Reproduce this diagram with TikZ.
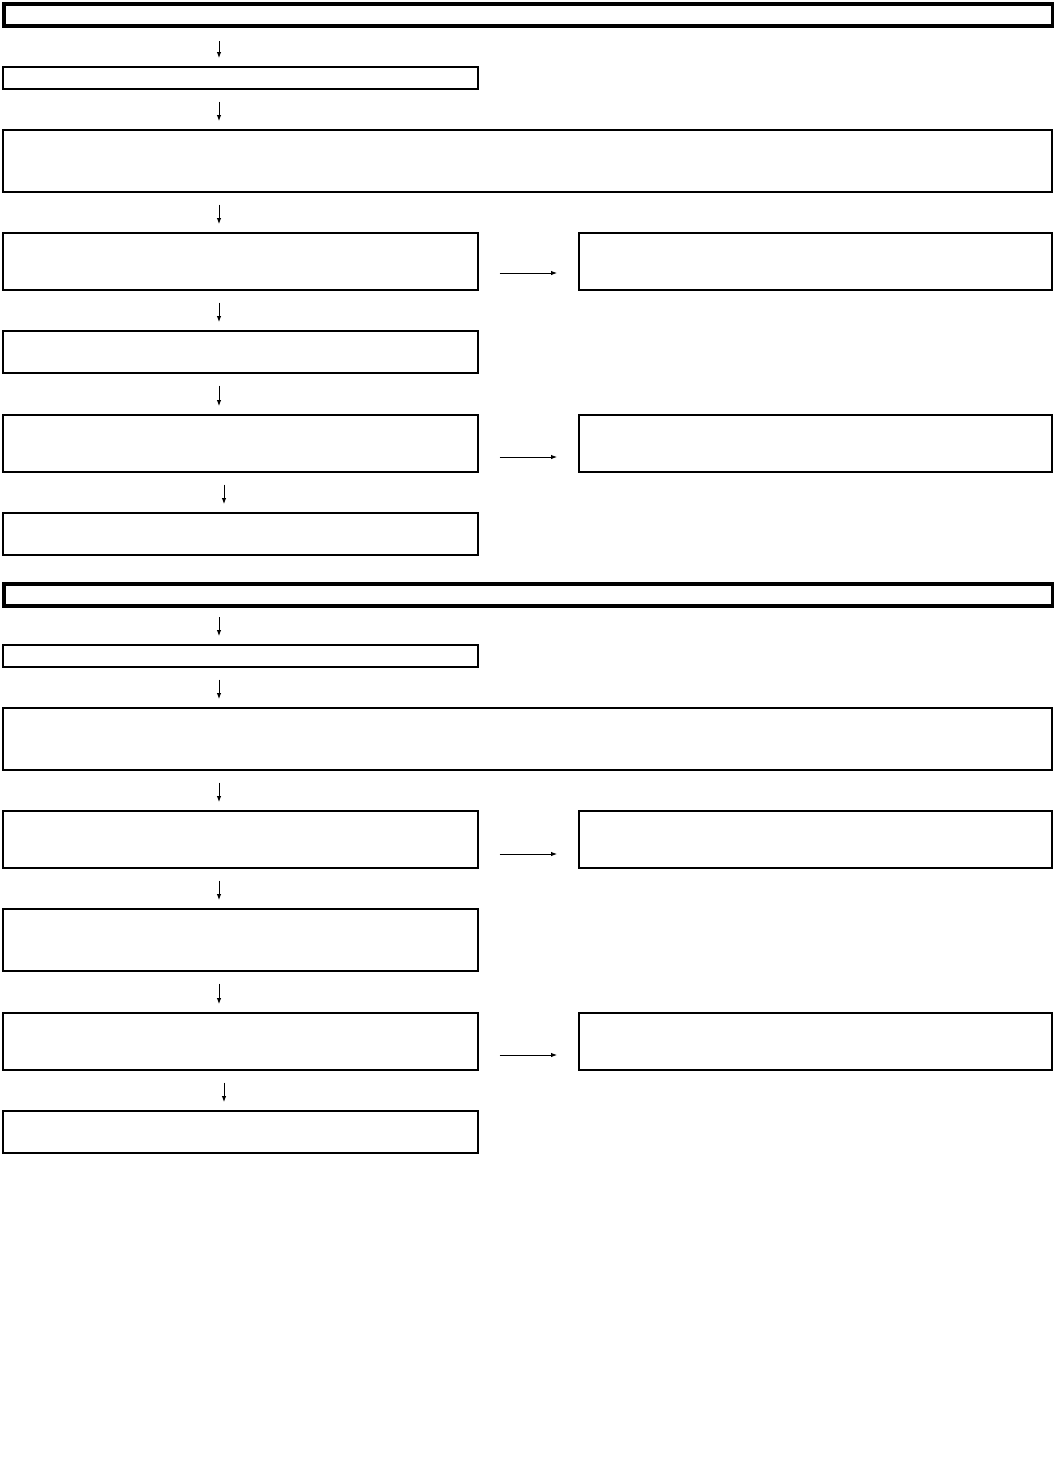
\documentclass[tikz,border=0pt]{standalone}
\usetikzlibrary{arrows.meta}

\begin{document}
\begin{tikzpicture}[x=1pt, y=-1pt,
		hdr/.style={draw, line width=4pt, rectangle, anchor=north west, inner sep=0pt, minimum width=1049pt, minimum height=21.5pt},
		blk/.style={draw, line width=1.5pt, rectangle, anchor=north west, inner sep=0pt, minimum width=475pt},
		wide/.style={blk, minimum width=1049pt},
		side/.style={blk, minimum width=473pt},
		flow/.style={-{Latex[length=6pt, width=4.5pt]}, line width=0.9pt, shorten <=12pt, shorten >=8pt},
		jump/.style={-{Latex[length=6pt, width=4.5pt]}, line width=0.9pt, shorten <=21pt, shorten >=21pt}]
		\useasboundingbox (0,0) rectangle (1053,1484);
		\coordinate (colL) at (219,0);
		\coordinate (colR) at (224,0);
		% first section
		\node[hdr] (hA) at (2,2) {};
		\node[blk, minimum height=22pt] (a1) at (2,66) {};
		\node[wide, minimum height=62pt] (a2) at (2,129) {};
		\node[blk, minimum height=57pt] (a3) at (2,232) {};
		\node[side, minimum height=57pt] (b3) at (578,232) {};
		\node[blk, minimum height=42pt] (a4) at (2,330) {};
		\node[blk, minimum height=57pt] (a5) at (2,414) {};
		\node[side, minimum height=57pt] (b5) at (578,414) {};
		\node[blk, minimum height=42pt] (a6) at (2,512) {};
		\draw[flow, shorten <=13.5pt] (hA.south -| colL) -- (a1.north -| colL);
		\draw[flow] (a1.south -| colL) -- (a2.north -| colL);
		\draw[flow] (a2.south -| colL) -- (a3.north -| colL);
		\draw[jump] ([yshift=17.5pt]a3.south east) -- ([yshift=17.5pt]b3.south west);
		\draw[flow] (a3.south -| colL) -- (a4.north -| colL);
		\draw[flow] (a4.south -| colL) -- (a5.north -| colL);
		\draw[jump] ([yshift=15.5pt]a5.south east) -- ([yshift=15.5pt]b5.south west);
		\draw[flow] (a5.south -| colR) -- (a6.north -| colR);
		% second section
		\node[hdr, minimum height=22pt] (hB) at (2,582) {};
		\node[blk, minimum height=22pt] (c1) at (2,644) {};
		\node[wide, minimum height=62pt] (c2) at (2,707) {};
		\node[blk, minimum height=57pt] (c3) at (2,810) {};
		\node[side, minimum height=57pt] (d3) at (578,810) {};
		\node[blk, minimum height=62pt] (c4) at (2,908) {};
		\node[blk, minimum height=57pt] (c5) at (2,1012) {};
		\node[side, minimum height=57pt] (d5) at (578,1012) {};
		\node[blk, minimum height=42pt] (c6) at (2,1110) {};
		\draw[flow, shorten <=9pt] (hB.south -| colL) -- (c1.north -| colL);
		\draw[flow] (c1.south -| colL) -- (c2.north -| colL);
		\draw[flow] (c2.south -| colL) -- (c3.north -| colL);
		\draw[jump] ([yshift=14.5pt]c3.south east) -- ([yshift=14.5pt]d3.south west);
		\draw[flow] (c3.south -| colL) -- (c4.north -| colL);
		\draw[flow] (c4.south -| colL) -- (c5.north -| colL);
		\draw[jump] ([yshift=15.5pt]c5.south east) -- ([yshift=15.5pt]d5.south west);
		\draw[flow] (c5.south -| colR) -- (c6.north -| colR);
	\end{tikzpicture}
\end{document}
